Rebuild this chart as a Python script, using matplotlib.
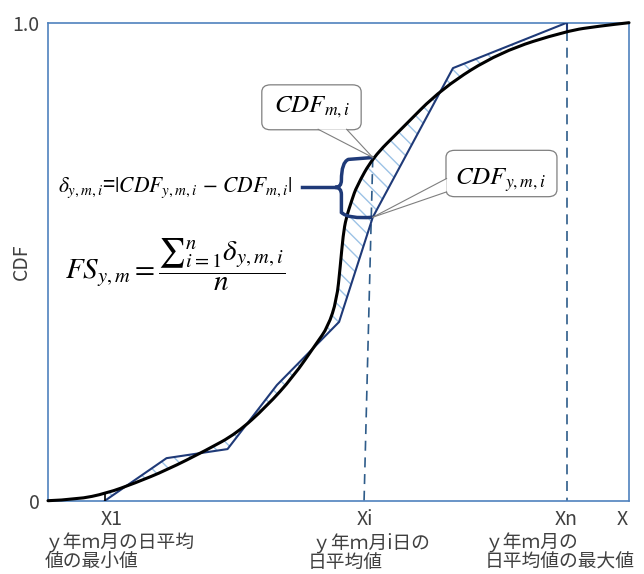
import numpy as np
import matplotlib; matplotlib.use("Agg")
import matplotlib.pyplot as plt
from matplotlib.patches import FancyBboxPatch, Polygon, PathPatch
from matplotlib.path import Path

plt.rcParams["font.family"] = ["Noto Sans CJK JP", "DejaVu Sans"]
plt.rcParams["mathtext.fontset"] = "stix"
plt.rcParams["hatch.linewidth"] = 1.0

# smooth reference CDF of month m (x and CDF both 0..1)
cdf_x = [0.0, 0.050, 0.101, 0.150, 0.204, 0.273, 0.325, 0.376, 0.422, 0.462, 0.482, 0.497,
         0.503, 0.508, 0.513, 0.523, 0.531, 0.559, 0.606, 0.678, 0.778, 0.893, 0.950, 1.0]
cdf_y = [0.0, 0.0025, 0.0155, 0.037, 0.064, 0.106, 0.141, 0.197, 0.259, 0.329, 0.364, 0.420,
         0.490, 0.556, 0.591, 0.629, 0.657, 0.718, 0.775, 0.863, 0.939, 0.983, 0.993, 1.0]
# empirical CDF of year y, month m
emp_x = [0.098, 0.204, 0.309, 0.394, 0.501, 0.559, 0.697, 0.893]
emp_y = [0.0, 0.089, 0.108, 0.242, 0.374, 0.593, 0.905, 1.0]

x1, xi, xn = 0.098, 0.559, 0.893
xi_bottom = 0.544          # dashed guide at Xi leans a little
cdf_x1, cdf_xi, cdf_xn = 0.0155, 0.718, 0.983
emp_xi = 0.593

tick_pos = [0.110, 0.546, 0.892, 0.988]
tick_lbl = ["X1", "Xi", "Xn", "X"]
notes = ["ｙ年ｍ月の日平均\n値の最小値", " ｙ年ｍ月i日の\n日平均値", "ｙ年ｍ月の\n日平均値の最大値"]
note_x = [-0.005, 0.447, 0.752]

NAVY = "#1f3a78"; FRAME = "#4f81bd"; DASH = "#2e5c8a"; HATCH = "#9dc3e6"; GREY = "#7f7f7f"; TXT = "#404040"

fig = plt.figure(figsize=(6.44, 5.74), dpi=100)
ax = fig.add_axes([48/644, 1-500.7/574, 581/644, 478/574])
ax.set_xlim(0, 1); ax.set_ylim(0, 1)
for s in ax.spines.values(): s.set_color(FRAME); s.set_linewidth(1.2)

# hatched region between the two CDFs
cx = np.array(cdf_x); cy = np.array(cdf_y)
m = (cx > x1) & (cx < xn)
poly_x = list(emp_x) + list(cx[m][::-1])
poly_y = list(emp_y) + list(cy[m][::-1])
ax.fill(poly_x, poly_y, facecolor="none", edgecolor=HATCH, hatch="\\\\", linewidth=0, zorder=1)

# smooth curve through the read points: quadratic bezier pieces, read points as controls
pts = np.column_stack([cx, cy])
verts = [pts[0]]; codes = [Path.MOVETO]
for k in range(1, len(pts) - 1):
    verts += [pts[k], (pts[k] + pts[k + 1]) / 2]; codes += [Path.CURVE3, Path.CURVE3]
verts.append(pts[-1]); codes.append(Path.LINETO)
ax.add_patch(PathPatch(Path(verts, codes), fill=False, edgecolor="black", lw=2.2, zorder=4,
                       clip_on=False, capstyle="round"))

ax.plot(emp_x, emp_y, color=NAVY, lw=1.5, zorder=3)
ax.plot([x1, x1], [0, cdf_x1], color="black", lw=1.2, zorder=3)
ax.plot([xn, xn], [cdf_xn, 1.0], color=NAVY, lw=1.5, zorder=3)
ax.plot([xi, xi_bottom], [cdf_xi, 0], color=DASH, lw=1.2, ls=(0, (6, 4)), zorder=2)
ax.plot([xn, xn], [cdf_xn, 0], color=DASH, lw=1.2, ls=(0, (6, 4)), zorder=2)

# brace marking delta at Xi
bl, bt, bb = 0.505, cdf_xi, emp_xi
bm = (bt + bb) / 2; tipx = 0.494
bv = [(xi, bt), (bl + 0.012, bt - 0.004), (bl, bt - 0.01), (bl, bm + 0.015), (bl, bm), (tipx, bm),
      (bl, bm), (bl, bm - 0.015), (bl, bb + 0.01), (bl + 0.012, bb - 0.004), (xi, bb)]
bc = [Path.MOVETO, Path.LINETO, Path.CURVE3, Path.CURVE3, Path.CURVE3, Path.CURVE3,
      Path.CURVE3, Path.CURVE3, Path.LINETO, Path.CURVE3, Path.CURVE3]
ax.add_patch(PathPatch(Path(bv, bc), fill=False, edgecolor=NAVY, lw=2.5, zorder=5))
ax.plot([0.437, tipx], [bm, bm], color=NAVY, lw=2.5, zorder=5)

# callouts
def callout(x0, y0, w, h, a, b, tip, label, tx, ty):
    ax.add_patch(FancyBboxPatch((x0, y0), w, h, boxstyle="round,pad=0,rounding_size=0.015",
                                facecolor="white", edgecolor=GREY, lw=0.9, zorder=6))
    ax.add_patch(Polygon([a, b, tip], closed=True, facecolor="white", edgecolor="none", zorder=6.5))
    ax.plot([a[0], tip[0]], [a[1], tip[1]], color=GREY, lw=0.8, zorder=7)
    ax.plot([b[0], tip[0]], [b[1], tip[1]], color=GREY, lw=0.8, zorder=7)
    ax.text(tx, ty, label, fontsize=18, ha="center", va="center", zorder=8)

callout(0.368, 0.776, 0.171, 0.094, (0.465, 0.777), (0.514, 0.777), (xi, cdf_xi),
        r"$CDF_{m,i}$", 0.454, 0.823)
callout(0.685, 0.636, 0.191, 0.097, (0.686, 0.674), (0.686, 0.646), (xi, emp_xi),
        r"$CDF_{y,m,i}$", 0.778, 0.671)

ax.text(0.017, bm, r"$\delta_{y,m,i}$=$|CDF_{y,m,i}\,-\,CDF_{m,i}|$", fontsize=15.5, ha="left", va="center")
ax.text(0.029, 0.493, r"$FS_{y,m}=\dfrac{{\sum}_{i=1}^{n}\delta_{y,m,i}}{n}$", fontsize=21, ha="left", va="center")

ax.set_yticks([0, 1]); ax.set_yticklabels(["0", "1.0"], fontsize=14, color=TXT)
ax.set_xticks(tick_pos); ax.set_xticklabels(tick_lbl, fontsize=14, color=TXT)
ax.tick_params(length=0, pad=6)
ax.set_ylabel("CDF", fontsize=14, color=TXT)
ax.yaxis.set_label_coords(-0.028, 0.5)
for t, xx in zip(notes, note_x):
    ax.text(xx, -0.066, t, fontsize=13.5, color=TXT, ha="left", va="top", linespacing=0.9)

fig.savefig("out.png", dpi=100)
